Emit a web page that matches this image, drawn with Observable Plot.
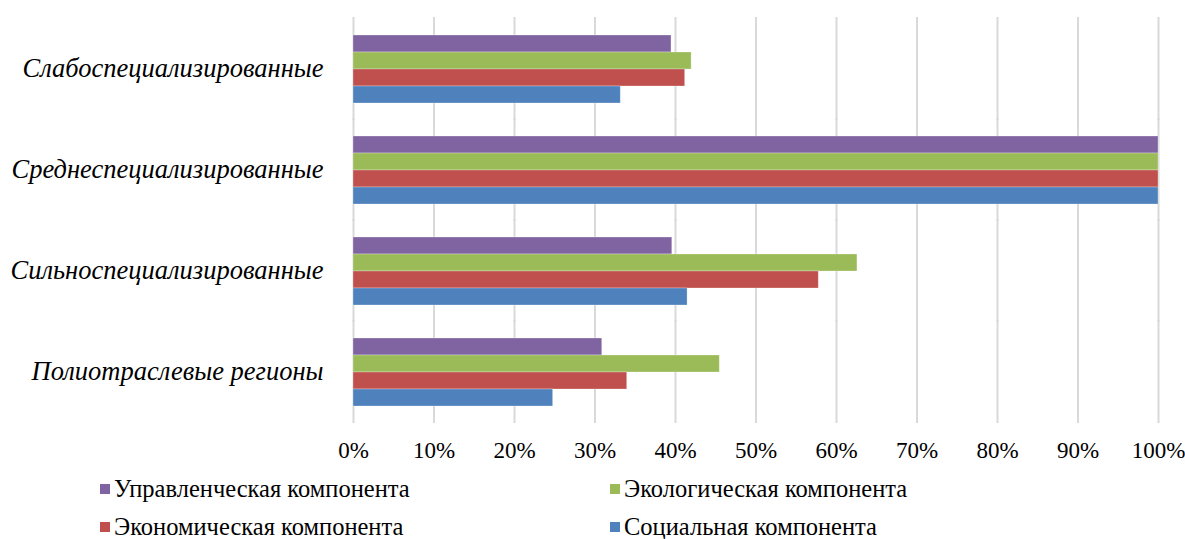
<!DOCTYPE html>
<html>
<head>
<meta charset="utf-8">
<script src="https://cdn.jsdelivr.net/npm/d3@7"></script>
<script src="https://cdn.jsdelivr.net/npm/@observablehq/plot@0.6"></script>
<style>
  html, body { margin: 0; padding: 0; background: #fff; font-family: 'Liberation Serif', serif; }
  #chart { width: 1185px; }
  .legend { position: relative; height: 76px; font-size: 24.5px; color: #000; font-family: 'Liberation Serif', serif; }
  .legend .item { position: absolute; display: flex; align-items: center; height: 38px; white-space: nowrap; }
  .legend .sw { width: 10px; height: 10px; margin-right: 4px; }
</style>
</head>
<body>
<div id="chart"></div>
<script>
// Region groups (top to bottom)
const categories = [
  "Слабоспециализированные",
  "Среднеспециализированные",
  "Сильноспециализированные",
  "Полиотраслевые регионы"
];

// Components, in bar order within each group (top to bottom)
const series = [
  "Управленческая компонента",
  "Экологическая компонента",
  "Экономическая компонента",
  "Социальная компонента"
];
const colors = ["#8064A2", "#9BBB59", "#C0504D", "#4F81BD"];

// Shares per component, one value per region group
const upravlencheskaya = [0.395, 1.0, 0.396, 0.309];
const ekologicheskaya  = [0.420, 1.0, 0.626, 0.455];
const ekonomicheskaya  = [0.412, 1.0, 0.578, 0.340];
const socialnaya       = [0.332, 1.0, 0.415, 0.248];

const xTicks = [0, 0.1, 0.2, 0.3, 0.4, 0.5, 0.6, 0.7, 0.8, 0.9, 1.0];

const seriesValues = [upravlencheskaya, ekologicheskaya, ekonomicheskaya, socialnaya];
const rows = [];
series.forEach((s, i) => {
  categories.forEach((c, j) => rows.push({category: c, series: s, value: seriesValues[i][j]}));
});

const FONT = "'Liberation Serif', serif";

const chart = Plot.plot({
  width: 1185,
  height: 470,
  marginLeft: 353,
  marginRight: 27,
  marginTop: 16,
  marginBottom: 47,
  style: {fontSize: "23px", color: "#000", background: "#fff"},
  x: {domain: [0, 1], ticks: xTicks, tickFormat: d3.format(".0%"), tickSize: 0, tickPadding: 35, label: null},
  y: {domain: series, padding: 0, axis: null},
  fy: {domain: categories, paddingInner: 0.32, paddingOuter: 0.16, tickSize: 0, tickPadding: 30, label: null},
  color: {domain: series, range: colors},
  marks: [
    Plot.ruleX(xTicks, {x: d => d, stroke: "#d9d9d9", strokeWidth: 2, insetTop: -17, insetBottom: -17}),
    Plot.barX(rows, {fy: "category", y: "series", x: "value", fill: "series", stroke: "#ffffff", strokeOpacity: 0.35, strokeWidth: 0.8})
  ]
});

// Serif type throughout; region names larger and in italics
chart.style.fontFamily = FONT;
d3.select(chart).selectAll("g").attr("font-family", null);
d3.select(chart).selectAll("text").each(function () {
  const t = d3.select(this).style("font-family", FONT).attr("fill", "#000");
  if (categories.includes(this.textContent)) t.style("font-style", "italic").style("font-size", "26.5px");
});

const root = document.getElementById("chart");
root.appendChild(chart);

// Two-column legend under the chart
const legend = document.createElement("div");
legend.className = "legend";
const legendPos = [[100, 0], [610, 0], [100, 38], [610, 38]];
series.forEach((s, i) => {
  const item = document.createElement("div");
  item.className = "item";
  item.style.left = legendPos[i][0] + "px";
  item.style.top = legendPos[i][1] + "px";
  const sw = document.createElement("span");
  sw.className = "sw";
  sw.style.background = colors[i];
  const label = document.createElement("span");
  label.textContent = s;
  label.style.fontFamily = FONT;
  item.appendChild(sw);
  item.appendChild(label);
  legend.appendChild(item);
});
root.appendChild(legend);
</script>
</body>
</html>
